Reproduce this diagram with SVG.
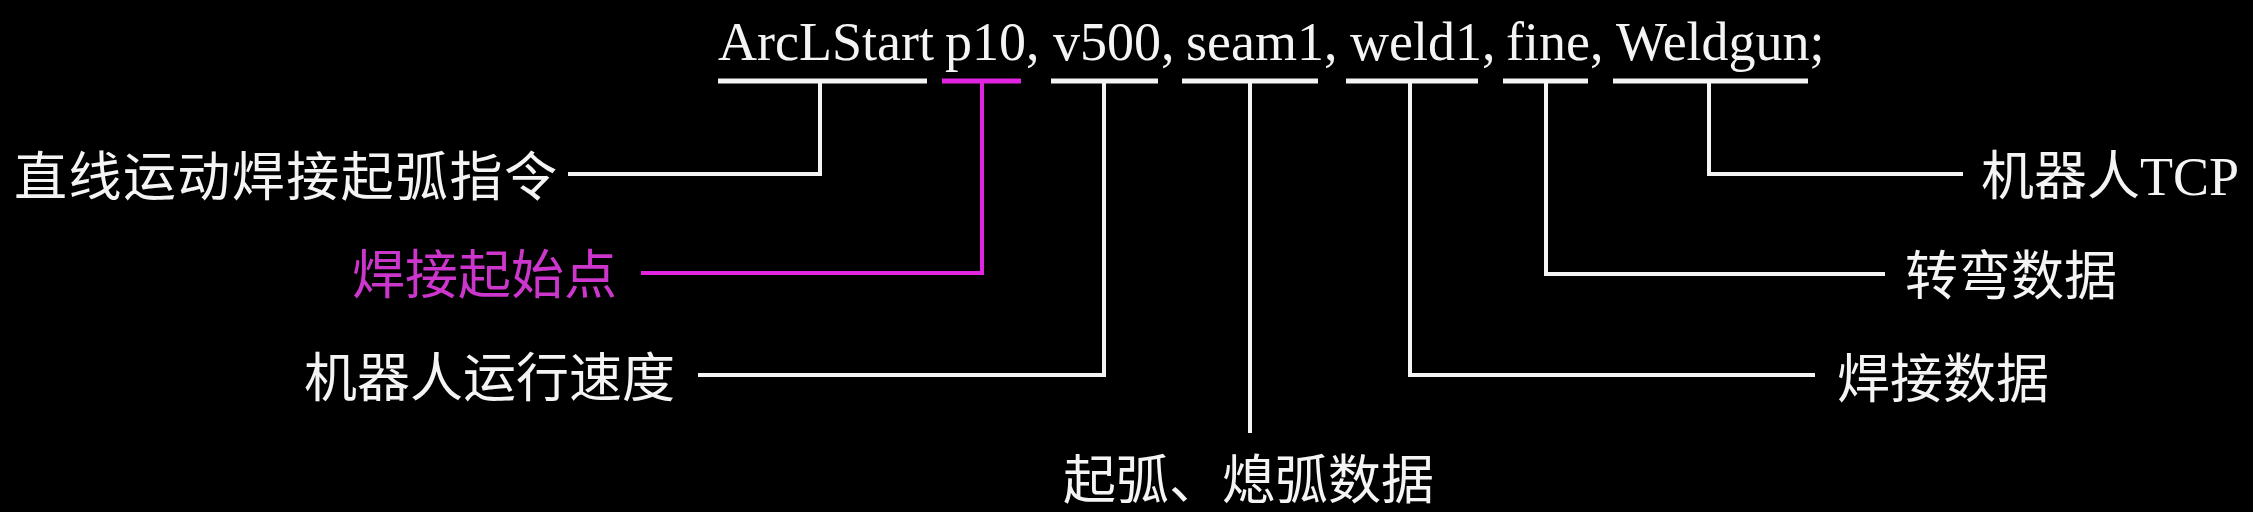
<svg xmlns="http://www.w3.org/2000/svg" width="2253" height="512" viewBox="0 0 2253 512">
<style>
.bg{fill:#000}
.code{font-family:"Liberation Serif","Times New Roman",serif;font-size:54px;fill:#f4f4f4}
.lbl{font-family:"Noto Sans CJK SC","Noto Sans",sans-serif;font-size:53px;fill:#f4f4f4}
.mag{fill:#cc36cc}
.ul{stroke:#f4f4f4;stroke-width:5;fill:none}
.ulm{stroke:#e024e0;stroke-width:5;fill:none}
.cn{stroke:#f4f4f4;stroke-width:4;fill:none}
.cnm{stroke:#e024e0;stroke-width:4;fill:none}
.serif{font-family:"Liberation Serif","Times New Roman",serif}
</style>
<rect class="bg" x="0" y="0" width="2253" height="512"/>
<g id="code">
<text class="code" y="60"><tspan x="718">ArcLStart</tspan> <tspan x="945">p10,</tspan> <tspan x="1053">v500,</tspan> <tspan x="1186">seam1,</tspan> <tspan x="1350">weld1,</tspan> <tspan x="1506">fine,</tspan> <tspan x="1616">Weldgun;</tspan></text>
<line class="ul" x1="718" y1="81" x2="927" y2="81"/>
<line class="ulm" x1="942" y1="81" x2="1021" y2="81"/>
<line class="ul" x1="1051" y1="81" x2="1158" y2="81"/>
<line class="ul" x1="1182" y1="81" x2="1318" y2="81"/>
<line class="ul" x1="1346" y1="81" x2="1478" y2="81"/>
<line class="ul" x1="1503" y1="81" x2="1588" y2="81"/>
<line class="ul" x1="1613" y1="81" x2="1808" y2="81"/>
</g>
<g id="label-instr"><text class="lbl" x="14" y="196" textLength="543" lengthAdjust="spacing">直线运动焊接起弧指令</text></g>
<g id="label-start"><text class="lbl mag" x="352" y="294">焊接起始点</text></g>
<g id="label-speed"><text class="lbl" x="304" y="397">机器人运行速度</text></g>
<g id="label-seam"><text class="lbl" x="1063" y="499">起弧、熄弧数据</text></g>
<g id="label-weld"><text class="lbl" x="1837" y="398">焊接数据</text></g>
<g id="label-zone"><text class="lbl" x="1905" y="295">转弯数据</text></g>
<g id="label-tool"><text class="lbl" x="1981" y="195">机器人<tspan class="serif" font-size="54">TCP</tspan></text></g>
<g id="connectors">
<path class="cn" d="M820,81 V174 H568"/>
<path class="cnm" d="M982,81 V273 H641"/>
<path class="cn" d="M1104,81 V375 H698"/>
<path class="cn" d="M1250,81 V433"/>
<path class="cn" d="M1410,81 V375 H1815"/>
<path class="cn" d="M1546,81 V274 H1885"/>
<path class="cn" d="M1709,81 V174 H1963"/>
</g>
</svg>
